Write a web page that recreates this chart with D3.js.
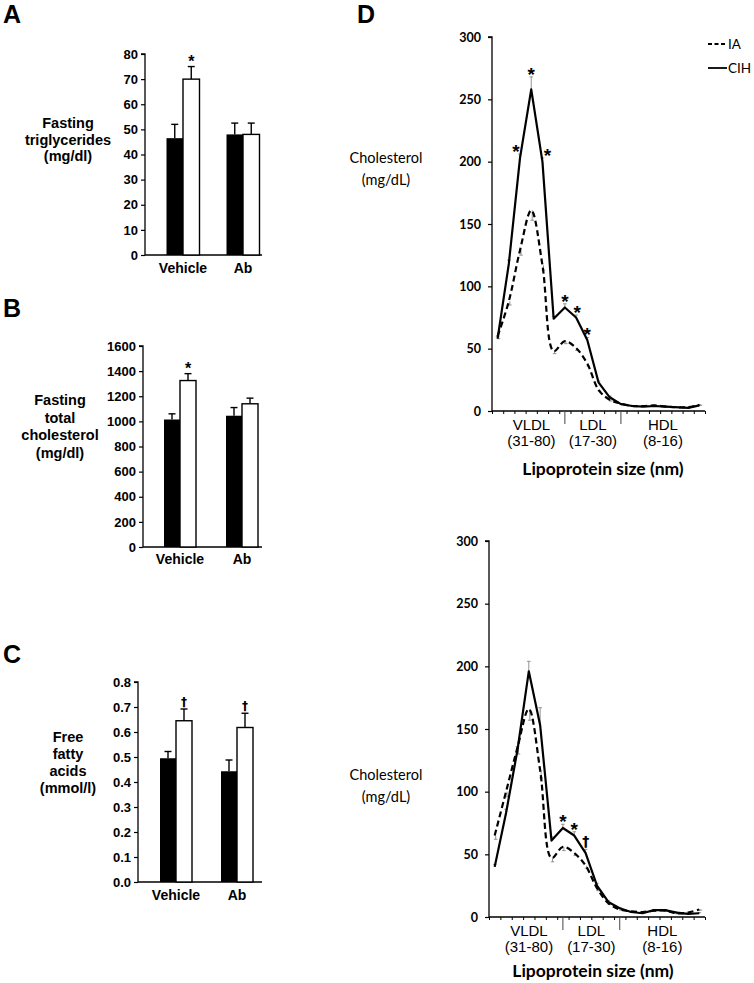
<!DOCTYPE html>
<html>
<head>
<meta charset="utf-8">
<script src="https://cdn.jsdelivr.net/npm/d3@7"></script>
<style>
  html, body { margin: 0; padding: 0; background: #fff; }
  svg { display: block; }
</style>
</head>
<body>
<script>
// ---------------- DATA ----------------
const barCategories = ["Vehicle", "Ab"];
const barGroups = ["IA", "CIH"];          // black, white

const trigIA = [46.5, 48];
const trigIAErr = [5.5, 4.5];
const trigCIH = [70, 48];
const trigCIHErr = [5, 4.5];
const trigTicks = [0, 10, 20, 30, 40, 50, 60, 70, 80];
const trigMarks = ["", "*", "", ""];

const cholIA = [1015, 1045];
const cholIAErr = [45, 65];
const cholCIH = [1325, 1140];
const cholCIHErr = [55, 45];
const cholTicks = [0, 200, 400, 600, 800, 1000, 1200, 1400, 1600];
const cholMarks = ["", "*", "", ""];

const ffaIA = [0.495, 0.443];
const ffaIAErr = [0.027, 0.045];
const ffaCIH = [0.645, 0.618];
const ffaCIHErr = [0.047, 0.057];
const ffaTicks = [0, 0.1, 0.2, 0.3, 0.4, 0.5, 0.6, 0.7, 0.8];
const ffaMarks = ["", "†", "", "†"];

// Lipoprotein profiles (19 FPLC fractions)
const fractions = d3.range(1, 20);
const lipoClasses = ["VLDL", "LDL", "HDL"];
const lipoRanges = ["(31-80)", "(17-30)", "(8-16)"];
const lipoDividers = [6, 11];          // fraction index where a class boundary is marked
const profileTicks = [0, 50, 100, 150, 200, 250, 300];

const topIA     = [60, 88, 129, 161, 117, 48, 56, 50.5, 38, 17, 9, 6, 4, 4, 4.5, 3.5, 3, 3, 5];
const topIAErr  = [2, 3, 4, 8, 4, 2, 2, 2, 2, 1, 1, 0.5, 0.5, 0.5, 0.5, 0.5, 0.5, 0.5, 0.5];
const topCIH    = [58, 118, 203, 258, 200, 74, 83, 75, 57, 23, 11, 5.5, 4, 3.5, 4, 3.5, 3, 2.5, 4.5];
const topCIHErr = [2, 3, 3, 10, 3, 2, 3, 2, 2, 1, 1, 0.5, 0.5, 0.5, 0.5, 0.5, 0.5, 0.5, 0.5];
const topMarks  = ["", "", "*", "*", "*", "", "*", "*", "*", "", "", "", "", "", "", "", "", "", ""];

const botIA     = [65, 100, 135, 166, 117, 47, 56, 51, 41, 23, 11, 6, 4.5, 4, 5, 5, 3, 3.5, 6];
const botIAErr  = [3, 4, 5, 9, 6, 3, 3, 2, 2, 2, 1, 0.5, 0.5, 0.5, 0.5, 0.5, 0.5, 0.5, 0.5];
const botCIH    = [40, 83, 133, 196, 153, 61, 71, 65, 51, 25, 12, 7, 4, 3, 5.5, 5.5, 3.5, 2.5, 3];
const botCIHErr = [2, 3, 3, 8, 14, 3, 3, 3, 3, 2, 1, 0.5, 0.5, 0.5, 0.5, 0.5, 0.5, 0.5, 0.5];
const botMarks  = ["", "", "", "", "", "", "*", "*", "†", "", "", "", "", "", "", "", "", "", ""];

const legendLabels = ["IA", "CIH"];

// ---------------- DRAW ----------------
const svg = d3.select("body").append("svg").attr("width", 754).attr("height", 983);
const ARIAL = "'Liberation Sans', Arial, sans-serif";
const CAL = "Lato, 'Open Sans', sans-serif";
const DAG = "'DejaVu Sans', sans-serif";

function barPanel(o) {
  const g = svg.append("g");
  g.append("text").attr("x", o.letterX).attr("y", o.letterY).text(o.letter)
    .attr("font-family", ARIAL).attr("font-weight", "bold").attr("font-size", 25);

  const y = d3.scaleLinear().domain([0, o.max]).range([o.y0, o.y1]);
  const x = d3.scalePoint().domain(barCategories).range(o.centers);

  const ax = g.append("g").attr("transform", `translate(${o.axisX},0)`)
    .call(d3.axisLeft(y).tickValues(o.ticks).tickSize(4).tickPadding(3).tickFormat(o.fmt));
  ax.select(".domain").attr("stroke-width", 1.3).attr("d", `M-4,${o.y1}H0V${o.y0}`);
  ax.selectAll(".tick line").attr("stroke-width", 1.2);
  ax.selectAll(".tick text").attr("font-family", ARIAL).attr("font-weight", "bold").attr("font-size", 13).attr("fill", "#000");

  // x axis line
  g.append("line").attr("x1", o.axisX).attr("x2", o.axisEnd).attr("y1", o.y0).attr("y2", o.y0)
    .attr("stroke", "#000").attr("stroke-width", 1.3);

  const bw = o.barW;
  const series = [
    { vals: o.ia, err: o.iaErr, fill: "#000", off: -1 },
    { vals: o.cih, err: o.cihErr, fill: "#fff", off: 0 }
  ];
  series.forEach((s, si) => {
    barCategories.forEach((c, i) => {
      const bx = x(c) + s.off * bw;
      const top = y(s.vals[i]);
      const cx = bx + bw / 2;
      const et = y(s.vals[i] + s.err[i]);
      g.append("line").attr("x1", cx).attr("x2", cx).attr("y1", top).attr("y2", et)
        .attr("stroke", "#000").attr("stroke-width", 1.4);
      g.append("line").attr("x1", cx - 3.5).attr("x2", cx + 3.5).attr("y1", et).attr("y2", et)
        .attr("stroke", "#000").attr("stroke-width", 1.4);
      g.append("rect").attr("x", bx).attr("y", top).attr("width", bw).attr("height", o.y0 - top)
        .attr("fill", s.fill).attr("stroke", "#000").attr("stroke-width", s.fill === "#000" ? 0 : 1.4);
      const m = o.marks[i * 2 + si];
      if (m) {
        g.append("text").attr("x", cx).attr("y", et - (m === "*" ? 0 : 3)).attr("text-anchor", "middle")
          .attr("fill", "#000")
          .attr("font-family", m === "*" ? ARIAL : DAG).attr("font-weight", "bold")
          .attr("font-size", m === "*" ? 16 : 12).text(m);
      }
    });
  });

  // category labels
  barCategories.forEach(c => {
    g.append("text").attr("x", x(c)).attr("y", o.catY).attr("text-anchor", "middle")
      .attr("font-family", ARIAL).attr("font-weight", "bold").attr("font-size", 14).text(c);
  });

  // y title
  o.title.forEach((t, i) => {
    g.append("text").attr("x", o.titleX).attr("y", o.titleY + i * o.titleDy).attr("text-anchor", "middle")
      .attr("font-family", ARIAL).attr("font-weight", "bold").attr("font-size", 14.5).text(t);
  });
}

barPanel({
  letter: "A", letterX: 3, letterY: 23,
  axisX: 145, axisEnd: 262, y0: 255, y1: 54, max: 80, ticks: trigTicks, fmt: d3.format("d"),
  centers: [183, 243], barW: 16.5,
  ia: trigIA, iaErr: trigIAErr, cih: trigCIH, cihErr: trigCIHErr, marks: trigMarks,
  catY: 273, title: ["Fasting", "triglycerides", "(mg/dl)"], titleX: 68, titleY: 128, titleDy: 16.5
});
barPanel({
  letter: "B", letterX: 3, letterY: 317,
  axisX: 143, axisEnd: 262, y0: 547, y1: 346, max: 1600, ticks: cholTicks, fmt: d3.format("d"),
  centers: [180, 242], barW: 16,
  ia: cholIA, iaErr: cholIAErr, cih: cholCIH, cihErr: cholCIHErr, marks: cholMarks,
  catY: 564, title: ["Fasting", "total", "cholesterol", "(mg/dl)"], titleX: 60, titleY: 405, titleDy: 17.5
});
barPanel({
  letter: "C", letterX: 3, letterY: 663,
  axisX: 138, axisEnd: 262, y0: 882, y1: 682, max: 0.8, ticks: ffaTicks, fmt: d3.format(".1f"),
  centers: [176, 237], barW: 16,
  ia: ffaIA, iaErr: ffaIAErr, cih: ffaCIH, cihErr: ffaCIHErr, marks: ffaMarks,
  catY: 900, title: ["Free", "fatty", "acids", "(mmol/l)"], titleX: 68, titleY: 742, titleDy: 17
});

// "D" letter
svg.append("text").attr("x", 357).attr("y", 23).text("D")
  .attr("font-family", ARIAL).attr("font-weight", "bold").attr("font-size", 25);

function profilePanel(o) {
  const g = svg.append("g");
  const y = d3.scaleLinear().domain([0, 300]).range([o.y0, o.y1]);
  const xe = d3.scaleLinear().domain([0, fractions.length]).range([o.axisX, o.axisEnd]);
  const px = i => xe(i + 0.5);

  const ax = g.append("g").attr("transform", `translate(${o.axisX},0)`)
    .call(d3.axisLeft(y).tickValues(profileTicks).tickSize(4).tickPadding(7));
  ax.select(".domain").attr("stroke-width", 1.3).attr("d", `M-4,${o.y1}H0V${o.y0}`);
  ax.selectAll(".tick line").attr("stroke-width", 1.2);
  ax.selectAll(".tick text").attr("font-family", CAL).attr("font-weight", "bold").attr("font-size", 12.5).attr("fill", "#000");

  const bx = g.append("g").attr("transform", `translate(0,${o.y0})`)
    .call(d3.axisBottom(xe).tickValues(d3.range(0, fractions.length + 1)).tickSize(3).tickFormat(""));
  bx.select(".domain").attr("stroke-width", 1.3).attr("d", `M${o.axisX},0H${o.axisEnd}`);
  bx.selectAll(".tick line").attr("stroke-width", 1);

  // class dividers
  lipoDividers.forEach(d => {
    g.append("line").attr("x1", px(d)).attr("x2", px(d)).attr("y1", o.y0).attr("y2", o.y0 + 13)
      .attr("stroke", "#444").attr("stroke-width", 1);
  });
  const bounds = [o.axisX, px(lipoDividers[0]), px(lipoDividers[1]), o.axisEnd];
  lipoClasses.forEach((c, i) => {
    const cx = (bounds[i] + bounds[i + 1]) / 2 + (i === 0 ? 3 : 0);
    g.append("text").attr("x", cx).attr("y", o.y0 + 19).attr("text-anchor", "middle")
      .attr("font-family", ARIAL).attr("font-size", 15).text(c);
    g.append("text").attr("x", cx).attr("y", o.y0 + 35).attr("text-anchor", "middle")
      .attr("font-family", ARIAL).attr("font-size", 15).text(lipoRanges[i]);
  });
  g.append("text").attr("x", o.xTitleX).attr("y", o.y0 + o.xTitleDy).attr("text-anchor", "middle")
    .attr("font-family", CAL).attr("font-weight", "bold").attr("font-size", 17.5).text("Lipoprotein size (nm)");

  // y title
  g.append("text").attr("x", 386).attr("y", o.titleY).attr("text-anchor", "middle")
    .attr("font-family", CAL).attr("font-size", 14.5).text("Cholesterol");
  g.append("text").attr("x", 386).attr("y", o.titleY + 22).attr("text-anchor", "middle")
    .attr("font-family", CAL).attr("font-size", 14.5).text("(mg/dL)");

  // error bars (IA downward, CIH upward)
  const errs = [
    { v: o.ia, e: o.iaErr, dir: -1, dx: 1 },
    { v: o.cih, e: o.cihErr, dir: 1, dx: 0 }
  ];
  errs.forEach(s => {
    s.v.forEach((v, i) => {
      const x = px(i) + s.dx;
      const ye = y(v + s.dir * s.e[i]);
      g.append("line").attr("x1", x).attr("x2", x).attr("y1", y(v)).attr("y2", ye)
        .attr("stroke", "#888").attr("stroke-width", 0.9);
      g.append("line").attr("x1", x - 1.8).attr("x2", x + 1.8).attr("y1", ye).attr("y2", ye)
        .attr("stroke", "#888").attr("stroke-width", 0.9);
    });
  });

  const lineIA = d3.line().x((d, i) => px(i)).y(d => y(d)).curve(d3.curveCatmullRom.alpha(0.5));
  const lineCIH = d3.line().x((d, i) => px(i)).y(d => y(d)).curve(d3.curveLinear);
  g.append("path").attr("d", lineIA(o.ia)).attr("fill", "none").attr("stroke", "#000")
    .attr("stroke-width", 2.2).attr("stroke-dasharray", "6,3.5");
  g.append("path").attr("d", lineCIH(o.cih)).attr("fill", "none").attr("stroke", "#000")
    .attr("stroke-width", 2.2).attr("stroke-linejoin", "round");

  // significance marks
  o.marks.forEach((m, i) => {
    if (!m) return;
    const v = o.cih[i] + o.cihErr[i];
    let dx = 0;
    if (o.markDx && o.markDx[i] !== undefined) dx = o.markDx[i];
    g.append("text").attr("x", px(i) + dx).attr("y", y(v) - (m === "*" ? -4 : 3))
      .attr("text-anchor", "middle").attr("fill", "#000")
      .attr("font-family", m === "*" ? ARIAL : DAG).attr("font-weight", "bold")
      .attr("font-size", m === "*" ? 19 : 14).text(m);
  });
}

profilePanel({
  axisX: 492, axisEnd: 705, y0: 411, y1: 37,
  ia: topIA, iaErr: topIAErr, cih: topCIH, cihErr: topCIHErr, marks: topMarks,
  markDx: { 2: -4, 4: 5, 7: 1 },
  titleY: 163, xTitleX: 603, xTitleDy: 64
});
profilePanel({
  axisX: 489, axisEnd: 705, y0: 917, y1: 541,
  ia: botIA, iaErr: botIAErr, cih: botCIH, cihErr: botCIHErr, marks: botMarks,
  markDx: {},
  titleY: 780, xTitleX: 593, xTitleDy: 60
});

// legend
const lg = svg.append("g");
legendLabels.forEach((l, i) => {
  const yy = 44 + i * 24;
  lg.append("line").attr("x1", 708).attr("x2", 727).attr("y1", yy).attr("y2", yy)
    .attr("stroke", "#000").attr("stroke-width", 1.8).attr("stroke-dasharray", i === 0 ? "4,2.5" : null);
  lg.append("text").attr("x", 728).attr("y", yy + 4.5).attr("font-family", CAL).attr("font-size", 13.5).text(l);
});
</script>
</body>
</html>
